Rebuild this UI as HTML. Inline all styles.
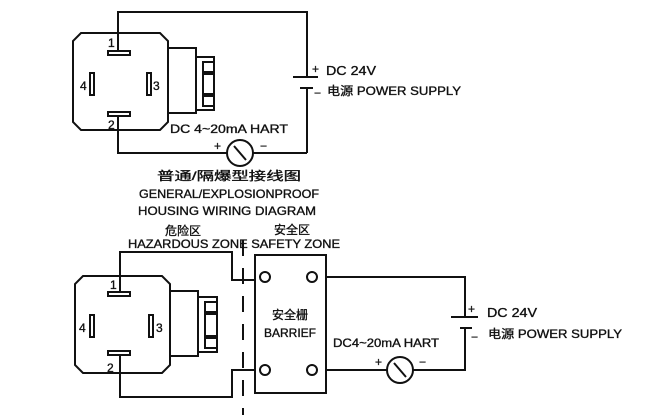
<!DOCTYPE html>
<html><head><meta charset="utf-8"><style>
html,body{margin:0;padding:0;background:#fff;}
svg{display:block;}
text{font-family:"Liberation Sans","Noto Sans CJK SC",sans-serif;fill:#111;stroke:#111;stroke-width:0.35;}
</style></head><body>
<svg width="659" height="420" viewBox="0 0 659 420" xmlns="http://www.w3.org/2000/svg">
<g fill="none" stroke="#111" stroke-width="2">
<path d="M81,33 L160,33 L168,41 L168,122 L160,130 L81,130 L73,122 L73,41 Z"/>
<rect x="168" y="48" width="28" height="65"/>
<rect x="196" y="57" width="18" height="53"/>
<rect x="203" y="62" width="11" height="10"/>
<rect x="203" y="96" width="11" height="10"/>
<rect x="203" y="74" width="11" height="20"/>
<rect x="108" y="51" width="22" height="4"/>
<rect x="90" y="73" width="4" height="22"/>
<rect x="147" y="73" width="4" height="22"/>
<rect x="108" y="112" width="22" height="4"/>
<polyline points="118,51 118,12 307,12 307,77"/>
<polyline points="118,116 118,153 227,153"/>
<line x1="253" y1="153" x2="307" y2="153"/>
<line x1="307" y1="88" x2="307" y2="153"/>
<line x1="293" y1="77" x2="318" y2="77"/>
<line x1="300" y1="88" x2="313" y2="88"/>
<circle cx="240" cy="153" r="13"/>
<line x1="234" y1="146" x2="246" y2="160"/>
<path d="M83,276 L162,276 L170,284 L170,365 L162,373 L83,373 L75,365 L75,284 Z"/>
<rect x="170" y="291" width="28" height="65"/>
<rect x="198" y="297" width="19" height="55"/>
<rect x="205" y="302" width="12" height="10"/>
<rect x="205" y="338" width="12" height="10"/>
<rect x="205" y="314" width="12" height="22"/>
<rect x="108" y="292" width="22" height="4"/>
<rect x="90" y="315" width="4" height="22"/>
<rect x="149" y="315" width="4" height="22"/>
<rect x="108" y="351" width="22" height="4"/>
<polyline points="120,292 120,252 232,252 232,280 255,280"/>
<polyline points="120,355 120,397 232,397 232,370 255,370"/>
<rect x="255" y="255" width="71" height="138"/>
<circle cx="265" cy="277" r="5"/>
<circle cx="312" cy="277" r="5"/>
<circle cx="265" cy="370" r="5"/>
<circle cx="312" cy="370" r="5"/>
<polyline points="326,277 465,277 465,317"/>
<line x1="451" y1="317" x2="478" y2="317"/>
<line x1="460" y1="328" x2="472" y2="328"/>
<polyline points="465,328 465,370 413,370"/>
<line x1="326" y1="370" x2="387" y2="370"/>
<circle cx="400" cy="370" r="13"/>
<line x1="394" y1="363" x2="406" y2="377"/>
<line x1="243" y1="240" x2="243" y2="415" stroke-dasharray="16,12"/>
</g>
<g font-size="12">
<text x="108" y="47">1</text><text x="80" y="90">4</text><text x="153" y="90">3</text><text x="108" y="129">2</text>
<text x="110" y="289">1</text><text x="79" y="332">4</text><text x="156" y="332">3</text><text x="107" y="372">2</text>
<text x="170" y="133" textLength="118" lengthAdjust="spacingAndGlyphs">DC 4~20mA HART</text>
<text x="214" y="150">+</text><text x="260" y="150">−</text>
<text x="312" y="73">+</text><text x="314" y="97">−</text>
<text x="326" y="75" font-size="13" textLength="50" lengthAdjust="spacingAndGlyphs">DC 24V</text>
<text x="327" y="95" textLength="134" lengthAdjust="spacingAndGlyphs">电源 POWER SUPPLY</text>
<text x="157" y="180" textLength="144" lengthAdjust="spacingAndGlyphs">普通/隔爆型接线图</text>
<text x="139" y="198" textLength="180" lengthAdjust="spacingAndGlyphs">GENERAL/EXPLOSIONPROOF</text>
<text x="138" y="215" textLength="178" lengthAdjust="spacingAndGlyphs">HOUSING WIRING DIAGRAM</text>
<text x="183" y="235" text-anchor="middle">危险区</text>
<text x="292" y="234" text-anchor="middle">安全区</text>
<text x="128" y="248" textLength="212" lengthAdjust="spacingAndGlyphs">HAZARDOUS ZONE SAFETY ZONE</text>
<text x="290" y="319" text-anchor="middle">安全栅</text>
<text x="290" y="337" text-anchor="middle">BARRIEF</text>
<text x="333" y="347" textLength="106" lengthAdjust="spacingAndGlyphs">DC4~20mA HART</text>
<text x="375" y="366">+</text><text x="419" y="366">−</text>
<text x="468" y="313">+</text><text x="471" y="341">−</text>
<text x="487" y="317" font-size="13" textLength="50" lengthAdjust="spacingAndGlyphs">DC 24V</text>
<text x="488" y="338" textLength="134" lengthAdjust="spacingAndGlyphs">电源 POWER SUPPLY</text>
</g>
</svg>
</body></html>
